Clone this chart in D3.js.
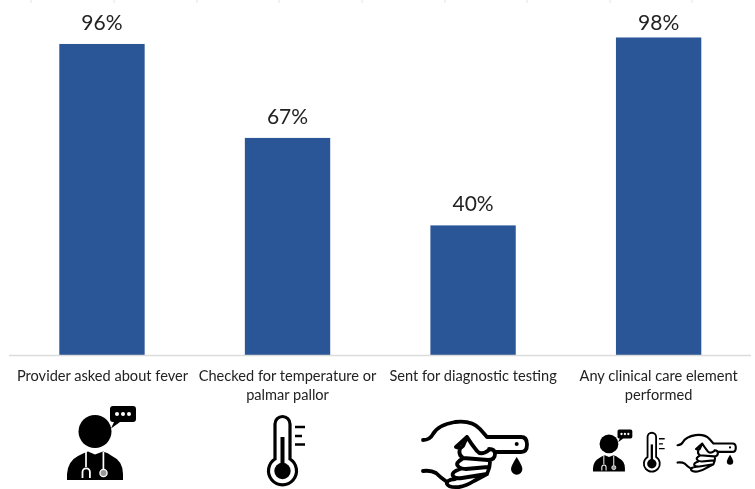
<!DOCTYPE html>
<html><head><meta charset="utf-8">
<script src="https://cdn.jsdelivr.net/npm/d3@7"></script>
<style>html,body{margin:0;padding:0;background:#fff}svg{display:block}</style>
</head><body><div id="c"></div>
<script>
const categories = ["Provider asked about fever","Checked for temperature or palmar pallor","Sent for diagnostic testing","Any clinical care element performed"];
const labelLines = [["Provider asked about fever"],["Checked for temperature or","palmar pallor"],["Sent for diagnostic testing"],["Any clinical care element","performed"]];
const values = [96,67,40,98];

const W=755,H=489;
const svg=d3.select("#c").append("svg").attr("width",W).attr("height",H);
const defs=svg.append("defs");
defs.append("filter").attr("id","soft").append("feGaussianBlur").attr("stdDeviation",0.45);

const x=d3.scaleBand().domain(categories).range([9.2,751.4]).paddingInner(0.54).paddingOuter(0.27);
const y=d3.scaleLinear().domain([0,100]).range([355,31]);

// top tick remnants
const topTicks=[31,114,197,279,362,445,527,610,692];
svg.append("g").selectAll("line").data(topTicks).join("line")
  .attr("x1",d=>d).attr("x2",d=>d).attr("y1",0).attr("y2",3)
  .attr("stroke","#e4e4e4").attr("stroke-width",1);

svg.append("g").selectAll("rect").data(values).join("rect")
  .attr("x",(d,i)=>x(categories[i])).attr("width",x.bandwidth())
  .attr("y",d=>y(d)).attr("height",d=>y(0)-y(d)).attr("fill","#2a5597");

svg.append("line").attr("x1",9).attr("x2",751).attr("y1",355.5).attr("y2",355.5).attr("stroke","#dcdcdc").attr("stroke-width",1.6);

svg.append("g").attr("filter","url(#soft)").selectAll("text").data(values).join("text")
  .attr("x",(d,i)=>x(categories[i])+x.bandwidth()/2).attr("y",d=>Math.max(y(d)-14,30))
  .attr("text-anchor","middle").attr("font-family","Lato, 'Open Sans', sans-serif").attr("font-size",21).attr("fill","#222")
  .text(d=>d+"%");

const lab=svg.append("g").attr("filter","url(#soft)");
labelLines.forEach((ls,i)=>{
  ls.forEach((l,j)=>{
    lab.append("text").attr("x",x(categories[i])+x.bandwidth()/2+(i==0?0.5:0)).attr("y",381+j*19)
      .attr("text-anchor","middle").attr("font-family","Lato, 'Open Sans', sans-serif").attr("font-size",14.6).attr("fill","#222").text(l);
  });
});

// icons, each drawn in its own local frame
function doctor(g){
  g.append("circle").attr("cx",28).attr("cy",24.5).attr("r",16.5);
  g.append("path").attr("d","M46,-1h20q3,0 3,3v10q0,3 -3,3h-13l-9,6.5l3,-6.5h-1q-3,0 -3,-3v-10q0,-3 3,-3z");
  g.selectAll(".d").data([50,56,62]).join("circle").attr("cx",d=>d).attr("cy",7).attr("r",2).attr("fill","#fff");
  g.append("path").attr("d","M0,73v-6q1,-13 11,-18q5,-3 10,-4.500l7,3l8,-3q5,1 9,4.500q11,5 11,18v6z");
  g.append("path").attr("d","M19,45v15M36.4,45v17").attr("fill","none").attr("stroke","#fff").attr("stroke-width",1.7);
  g.append("path").attr("d","M15.5,71v-6a3.7,3.7 0 0 1 7.4,0v6").attr("fill","none").attr("stroke","#fff").attr("stroke-width",1.8);
  g.append("circle").attr("cx",36.5).attr("cy",66).attr("r",3.6).attr("fill","#999").attr("stroke","#fff").attr("stroke-width",1.3);
}
function thermo(g){
  g.append("path").attr("d","M8,42V7a7.5,7.5 0 0 1 15,0V42A14,14 0 1 1 8,42z").attr("fill","none").attr("stroke","#000").attr("stroke-width",3.2);
  g.append("rect").attr("x",13.5).attr("y",20).attr("width",4).attr("height",30);
  g.append("circle").attr("cx",15.5).attr("cy",54).attr("r",8.2);
  g.append("path").attr("d","M28,10h10M28,19h7M28,27.5h10").attr("fill","none").attr("stroke","#000").attr("stroke-width",2.4);
}
function hand(g){
  g.append("path").attr("d",
   "M1,20Q8,20 11,14Q16,5 33,2Q50,0 58,9L65,17H99Q105,17 105,24.5Q105,32 99,32H73"+
   "M45,17L34,27Q39,29 41,26L45,17Q50,25 55,31Q59,36 67,30"+
   "M38,29Q36,35 41,38L66,40Q73,40 73,34Q73,29 67,29"+
   "M40,39Q33,43 36,46Q38,49 44,49L66,47"+
   "M38,49Q29,52 31,56Q33,59 40,58L65,54"+
   "M33,59Q24,60 25,64Q27,68 37,67Q44,66 52,61L65,54Q68,48 68,42"+
   "M1,51Q9,50 14,53Q19,58 25,62")
   .attr("fill","none").attr("stroke","#000").attr("stroke-width",3.8).attr("stroke-linecap","round").attr("stroke-linejoin","round");
  g.append("circle").attr("cx",94.7).attr("cy",24).attr("r",2);
  g.append("path").attr("d","M94.7,37Q89,46 89,49a5.7,5.7 0 0 0 11.4,0Q100.4,46 94.7,37z");
}
const icons=svg.append("g").attr("filter","url(#soft)").attr("fill","#000");
const iconTable=[
 [doctor,67,407,1],[thermo,267,417,1],[hand,422,420,1],
 [doctor,593,430,0.57],[thermo,643,433,0.57],[hand,677,434,0.56]
];
iconTable.forEach(([f,tx,ty,s])=>f(icons.append("g").attr("transform",`translate(${tx},${ty}) scale(${s})`)));
</script></body></html>
